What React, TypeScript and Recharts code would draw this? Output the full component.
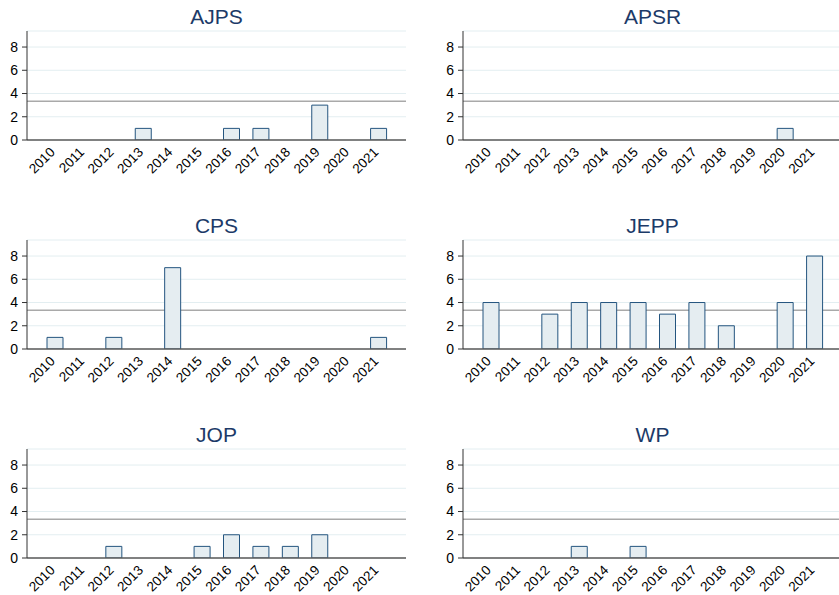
import React from 'react';
import { BarChart, Bar, XAxis, YAxis, CartesianGrid, ReferenceLine } from 'recharts';

const years = ['2010', '2011', '2012', '2013', '2014', '2015', '2016', '2017', '2018', '2019', '2020', '2021'];
const journals = ['AJPS', 'APSR', 'CPS', 'JEPP', 'JOP', 'WP'];
const ajps = [0, 0, 0, 1, 0, 0, 1, 1, 0, 3, 0, 1];
const apsr = [0, 0, 0, 0, 0, 0, 0, 0, 0, 0, 1, 0];
const cps = [1, 0, 1, 0, 7, 0, 0, 0, 0, 0, 0, 1];
const jepp = [4, 0, 3, 4, 4, 4, 3, 4, 2, 0, 4, 8];
const jop = [0, 0, 1, 0, 0, 1, 2, 1, 1, 2, 0, 0];
const wp = [0, 0, 0, 1, 0, 1, 0, 0, 0, 0, 0, 0];
const seriesList = [ajps, apsr, cps, jepp, jop, wp];
const yTicks = [0, 2, 4, 6, 8];
const refValue = 40 / 12;
const yMax = 9.38;

const FONT = '"Liberation Sans", Arial, sans-serif';

const XTick = (props: any) => {
  const { x, y, payload } = props;
  return (
    <g transform={`translate(${x + 1},${y + 13})`}>
      <text x={0} y={0} textAnchor="end" transform="rotate(-45)" fontSize={13.5} fill="#000" fontFamily={FONT}>
        {payload.value}
      </text>
    </g>
  );
};

const Panel = ({ title, values, left, top }: { title: string; values: number[]; left: number; top: number }) => {
  const data = years.map((y, i) => ({ year: y, value: values[i] }));
  return (
    <div style={{ position: 'absolute', left, top, width: 406, height: 209 }}>
      <div
        style={{
          position: 'absolute',
          left: 27,
          top: 5.5,
          width: 379,
          textAlign: 'center',
          fontFamily: FONT,
          fontSize: 21,
          lineHeight: '21px',
          color: '#1c3a68',
        }}
      >
        {title}
      </div>
      <BarChart width={406} height={209} data={data} margin={{ top: 31, right: 0, left: 0, bottom: 0 }}>
        <CartesianGrid vertical={false} stroke="#e3eef1" strokeWidth={1} />
        <XAxis
          dataKey="year"
          height={69}
          interval={0}
          tick={<XTick />}
          tickLine={false}
          tickSize={0}
          tickMargin={0}
          padding={{ left: 13, right: 13 }}
          axisLine={{ stroke: '#5a5a5a', strokeWidth: 1.3 }}
        />
        <YAxis
          width={27}
          domain={[0, yMax]}
          ticks={yTicks}
          allowDataOverflow
          tickSize={5}
          tickMargin={4}
          tick={{ fontSize: 14, fill: '#000', fontFamily: FONT }}
          tickLine={{ stroke: '#333' }}
          axisLine={{ stroke: '#333' }}
        />
        <ReferenceLine y={refValue} stroke="#a9a9a9" strokeWidth={1.6} zIndex={-50} />
        <Bar dataKey="value" barSize={16} fill="#e5edf1" stroke="#24557f" strokeWidth={1} isAnimationActive={false} />
      </BarChart>
    </div>
  );
};

export default function App() {
  return (
    <div style={{ position: 'absolute', left: 0, top: 0, width: 839, height: 595, overflow: 'hidden', background: '#fff' }}>
      {journals.map((j, i) => (
        <Panel
          key={j}
          title={j}
          values={seriesList[i]}
          left={(i % 2) * 436}
          top={Math.floor(i / 2) * 209}
        />
      ))}
    </div>
  );
}
